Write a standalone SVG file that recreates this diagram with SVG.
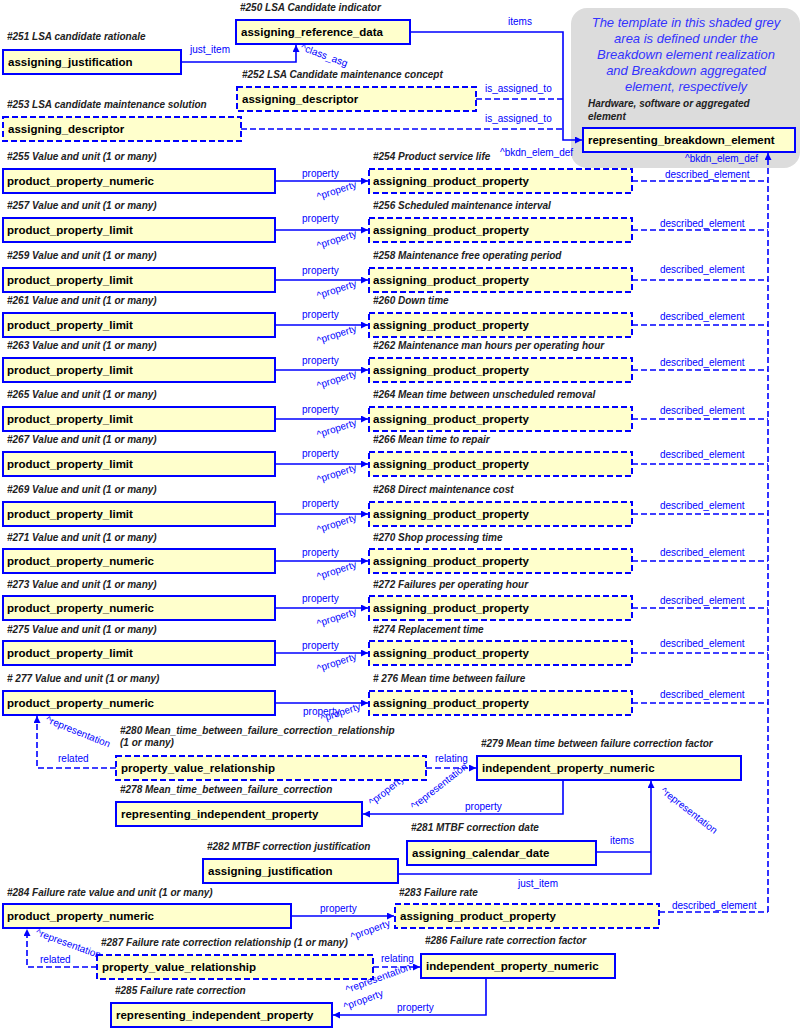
<svg xmlns="http://www.w3.org/2000/svg" width="801" height="1028" viewBox="0 0 801 1028">
<style>
.b{fill:#ffffcc;stroke:#0000ff;stroke-width:2}
.d{stroke-dasharray:6,3}
.t{font:bold 11.5px "Liberation Sans",Arial,sans-serif;fill:#000}
.h{font:italic bold 10px "Liberation Sans",Arial,sans-serif;fill:#222}
.l{font:10px "Liberation Sans",Arial,sans-serif;fill:#0000ff}
.c{fill:none;stroke:#0000ff;stroke-width:1.6}
.g{font:italic 13px "Liberation Sans",Arial,sans-serif;fill:#3333ff}
</style>
<defs><marker id="a" viewBox="0 0 10 10" refX="10" refY="5" markerWidth="7" markerHeight="7" orient="auto" markerUnits="userSpaceOnUse"><path d="M0,0L10,5L0,10z" fill="#0000ff"/></marker></defs>
<rect width="801" height="1028" fill="#fff"/>
<rect x="571" y="8" width="229" height="160" rx="16" fill="#dcdcdc"/>
<text class="g" text-anchor="middle"><tspan x="686" y="27">The template in this shaded grey</tspan><tspan x="686" y="43">area is defined under the</tspan><tspan x="686" y="59">Breakdown element realization</tspan><tspan x="686" y="75">and Breakdown aggregated</tspan><tspan x="686" y="91">element, respectively</tspan></text>
<text class="h"><tspan x="588" y="107">Hardware, software or aggregated</tspan><tspan x="588" y="120">element</tspan></text>
<g id="connectors">
<path class="c" d="M181,62H296V45" marker-end="url(#a)"/>
<text class="l" x="190" y="53">just_item</text>
<text class="l" x="300" y="50" transform="rotate(20 300 50)">^class_asg</text>
<path class="c" d="M410,32H563V140H582" marker-end="url(#a)"/>
<text class="l" x="508" y="25">items</text>
<path class="c d" d="M476,99H563"/><text class="l" x="485" y="92">is_assigned_to</text>
<path class="c d" d="M241,129H563"/><text class="l" x="485" y="122">is_assigned_to</text>
<text class="l" x="500" y="156">^bkdn_elem_def</text>
<text class="l" x="685" y="162">^bkdn_elem_def</text>
<path class="c d" d="M768,912V153" marker-end="url(#a)"/>
<g id="rows">
<path class="c" d="M275,181H368" marker-end="url(#a)"/><text class="l" x="302" y="177">property</text><text class="l" x="318" y="200" transform="rotate(-18 318 200)">^property</text><path class="c d" d="M632,181H768"/><text class="l" x="665" y="178">described_element</text>
<path class="c" d="M275,230H368" marker-end="url(#a)"/><text class="l" x="302" y="222">property</text><text class="l" x="318" y="249" transform="rotate(-18 318 249)">^property</text><path class="c d" d="M632,230H768"/><text class="l" x="660" y="227">described_element</text>
<path class="c" d="M275,280H368" marker-end="url(#a)"/><text class="l" x="302" y="274">property</text><text class="l" x="318" y="299" transform="rotate(-18 318 299)">^property</text><path class="c d" d="M632,280H768"/><text class="l" x="660" y="273">described_element</text>
<path class="c" d="M275,325H368" marker-end="url(#a)"/><text class="l" x="302" y="318">property</text><text class="l" x="318" y="344" transform="rotate(-18 318 344)">^property</text><path class="c d" d="M632,325H768"/><text class="l" x="660" y="320">described_element</text>
<path class="c" d="M275,370H368" marker-end="url(#a)"/><text class="l" x="302" y="364">property</text><text class="l" x="318" y="389" transform="rotate(-18 318 389)">^property</text><path class="c d" d="M632,370H768"/><text class="l" x="660" y="366">described_element</text>
<path class="c" d="M275,419H368" marker-end="url(#a)"/><text class="l" x="302" y="413">property</text><text class="l" x="318" y="438" transform="rotate(-18 318 438)">^property</text><path class="c d" d="M632,419H768"/><text class="l" x="660" y="414">described_element</text>
<path class="c" d="M275,464H368" marker-end="url(#a)"/><text class="l" x="302" y="457">property</text><text class="l" x="318" y="483" transform="rotate(-18 318 483)">^property</text><path class="c d" d="M632,464H768"/><text class="l" x="660" y="458">described_element</text>
<path class="c" d="M275,514H368" marker-end="url(#a)"/><text class="l" x="302" y="507">property</text><text class="l" x="318" y="533" transform="rotate(-18 318 533)">^property</text><path class="c d" d="M632,514H768"/><text class="l" x="660" y="509">described_element</text>
<path class="c" d="M275,561H368" marker-end="url(#a)"/><text class="l" x="302" y="556">property</text><text class="l" x="318" y="580" transform="rotate(-18 318 580)">^property</text><path class="c d" d="M632,561H768"/><text class="l" x="660" y="556">described_element</text>
<path class="c" d="M275,608H368" marker-end="url(#a)"/><text class="l" x="302" y="602">property</text><text class="l" x="318" y="627" transform="rotate(-18 318 627)">^property</text><path class="c d" d="M632,608H768"/><text class="l" x="660" y="604">described_element</text>
<path class="c" d="M275,653H368" marker-end="url(#a)"/><text class="l" x="302" y="649">property</text><text class="l" x="318" y="672" transform="rotate(-18 318 672)">^property</text><path class="c d" d="M632,653H768"/><text class="l" x="660" y="647">described_element</text>
<path class="c" d="M275,703H368" marker-end="url(#a)"/><text class="l" x="303" y="715">property</text><text class="l" x="322" y="722" transform="rotate(-18 322 722)">^property</text><path class="c d" d="M632,703H768"/><text class="l" x="660" y="698">described_element</text>
</g>
<path class="c d" d="M116,768H37V716" marker-end="url(#a)"/>
<text class="l" x="45" y="722" transform="rotate(22 45 722)">^representation</text>
<text class="l" x="58" y="762">related</text>
<path class="c d" d="M426,768H476" marker-end="url(#a)"/><text class="l" x="435" y="762">relating</text>
<path class="c" d="M563,780V814H363" marker-end="url(#a)"/>
<text class="l" x="465" y="810">property</text>
<text class="l" x="372" y="806" transform="rotate(-38 372 806)">^property</text>
<text class="l" x="414" y="810" transform="rotate(-38 414 810)">^representation</text>
<path class="c" d="M596,852H651"/>
<path class="c" d="M398,874H651V781" marker-end="url(#a)"/>
<text class="l" x="610" y="844">items</text>
<text class="l" x="518" y="887">just_item</text>
<text class="l" x="660" y="792" transform="rotate(38 660 792)">^representation</text>
<path class="c" d="M291,916H394" marker-end="url(#a)"/><text class="l" x="320" y="912">property</text>
<text class="l" x="352" y="940" transform="rotate(-20 352 940)">^property</text>
<path class="c d" d="M659,912H768"/><text class="l" x="672" y="909">described_element</text>
<path class="c d" d="M97,967H27V929" marker-end="url(#a)"/>
<text class="l" x="35" y="935" transform="rotate(20 35 935)">^representation</text>
<text class="l" x="40" y="963">related</text>
<path class="c d" d="M373,967H420" marker-end="url(#a)"/><text class="l" x="381" y="962">relating</text>
<path class="c" d="M486,978V1015H333" marker-end="url(#a)"/>
<text class="l" x="397" y="1011">property</text>
<text class="l" x="345" y="1010" transform="rotate(-20 345 1010)">^property</text>
<text class="l" x="347" y="993" transform="rotate(-20 347 993)">^representation</text>
</g>
<g id="n250"><text class="h" x="240" y="11">#250 LSA Candidate indicator</text><rect class="b" x="236" y="20" width="174" height="24"/><text class="t" x="241" y="36">assigning_reference_data</text></g>
<g id="n251"><text class="h" x="7" y="40">#251 LSA candidate rationale</text><rect class="b" x="3" y="50" width="178" height="24"/><text class="t" x="8" y="66">assigning_justification</text></g>
<g id="n252"><text class="h" x="242" y="78">#252 LSA Candidate maintenance concept</text><rect class="b d" x="237" y="87" width="239" height="24"/><text class="t" x="242" y="103">assigning_descriptor</text></g>
<g id="n253"><text class="h" x="7" y="108">#253 LSA candidate maintenance solution</text><rect class="b d" x="3" y="117" width="238" height="24"/><text class="t" x="8" y="133">assigning_descriptor</text></g>
<g id="rbe"><rect class="b" x="583" y="128" width="212" height="24"/><text class="t" x="588" y="144">representing_breakdown_element</text></g>
<g id="r1"><text class="h" x="7" y="160">#255 Value and unit (1 or many)</text><rect class="b" x="3" y="169" width="272" height="24"/><text class="t" x="7" y="185">product_property_numeric</text><text class="h" x="373" y="160">#254 Product service life</text><rect class="b d" x="369" y="169" width="263" height="24"/><text class="t" x="373" y="185">assigning_product_property</text></g>
<g id="r2"><text class="h" x="7" y="209">#257 Value and unit (1 or many)</text><rect class="b" x="3" y="218" width="272" height="24"/><text class="t" x="7" y="234">product_property_limit</text><text class="h" x="373" y="209">#256 Scheduled maintenance interval</text><rect class="b d" x="369" y="218" width="263" height="24"/><text class="t" x="373" y="234">assigning_product_property</text></g>
<g id="r3"><text class="h" x="7" y="259">#259 Value and unit (1 or many)</text><rect class="b" x="3" y="268" width="272" height="24"/><text class="t" x="7" y="284">product_property_limit</text><text class="h" x="373" y="259">#258 Maintenance free operating period</text><rect class="b d" x="369" y="268" width="263" height="24"/><text class="t" x="373" y="284">assigning_product_property</text></g>
<g id="r4"><text class="h" x="7" y="304">#261 Value and unit (1 or many)</text><rect class="b" x="3" y="313" width="272" height="24"/><text class="t" x="7" y="329">product_property_limit</text><text class="h" x="373" y="304">#260 Down time</text><rect class="b d" x="369" y="313" width="263" height="24"/><text class="t" x="373" y="329">assigning_product_property</text></g>
<g id="r5"><text class="h" x="7" y="349">#263 Value and unit (1 or many)</text><rect class="b" x="3" y="358" width="272" height="24"/><text class="t" x="7" y="374">product_property_limit</text><text class="h" x="373" y="349">#262 Maintenance man hours per operating hour</text><rect class="b d" x="369" y="358" width="263" height="24"/><text class="t" x="373" y="374">assigning_product_property</text></g>
<g id="r6"><text class="h" x="7" y="398">#265 Value and unit (1 or many)</text><rect class="b" x="3" y="407" width="272" height="24"/><text class="t" x="7" y="423">product_property_limit</text><text class="h" x="373" y="398">#264 Mean time between unscheduled removal</text><rect class="b d" x="369" y="407" width="263" height="24"/><text class="t" x="373" y="423">assigning_product_property</text></g>
<g id="r7"><text class="h" x="7" y="443">#267 Value and unit (1 or many)</text><rect class="b" x="3" y="452" width="272" height="24"/><text class="t" x="7" y="468">product_property_limit</text><text class="h" x="373" y="443">#266 Mean time to repair</text><rect class="b d" x="369" y="452" width="263" height="24"/><text class="t" x="373" y="468">assigning_product_property</text></g>
<g id="r8"><text class="h" x="7" y="493">#269 Value and unit (1 or many)</text><rect class="b" x="3" y="502" width="272" height="24"/><text class="t" x="7" y="518">product_property_limit</text><text class="h" x="373" y="493">#268 Direct maintenance cost</text><rect class="b d" x="369" y="502" width="263" height="24"/><text class="t" x="373" y="518">assigning_product_property</text></g>
<g id="r9"><text class="h" x="7" y="541">#271 Value and unit (1 or many)</text><rect class="b" x="3" y="549" width="272" height="24"/><text class="t" x="7" y="565">product_property_numeric</text><text class="h" x="373" y="541">#270 Shop processing time</text><rect class="b d" x="369" y="549" width="263" height="24"/><text class="t" x="373" y="565">assigning_product_property</text></g>
<g id="r10"><text class="h" x="7" y="588">#273 Value and unit (1 or many)</text><rect class="b" x="3" y="596" width="272" height="24"/><text class="t" x="7" y="612">product_property_numeric</text><text class="h" x="373" y="588">#272 Failures per operating hour</text><rect class="b d" x="369" y="596" width="263" height="24"/><text class="t" x="373" y="612">assigning_product_property</text></g>
<g id="r11"><text class="h" x="7" y="633">#275 Value and unit (1 or many)</text><rect class="b" x="3" y="641" width="272" height="24"/><text class="t" x="7" y="657">product_property_limit</text><text class="h" x="373" y="633">#274 Replacement time</text><rect class="b d" x="369" y="641" width="263" height="24"/><text class="t" x="373" y="657">assigning_product_property</text></g>
<g id="r12"><text class="h" x="7" y="682"># 277 Value and unit (1 or many)</text><rect class="b" x="3" y="691" width="272" height="24"/><text class="t" x="7" y="707">product_property_numeric</text><text class="h" x="373" y="682"># 276 Mean time between failure</text><rect class="b d" x="369" y="691" width="263" height="24"/><text class="t" x="373" y="707">assigning_product_property</text></g>
<g id="n280"><text class="h"><tspan x="120" y="734">#280 Mean_time_between_failure_correction_relationship</tspan><tspan x="120" y="746">(1 or many)</tspan></text><rect class="b d" x="116" y="756" width="310" height="24"/><text class="t" x="121" y="772">property_value_relationship</text></g>
<g id="n279"><text class="h" x="481" y="747">#279 Mean time between failure correction factor</text><rect class="b" x="477" y="756" width="264" height="24"/><text class="t" x="482" y="772">independent_property_numeric</text></g>
<g id="n278"><text class="h" x="120" y="793">#278 Mean_time_between_failure_correction</text><rect class="b" x="116" y="802" width="246" height="24"/><text class="t" x="121" y="818">representing_independent_property</text></g>
<g id="n281"><text class="h" x="411" y="831">#281 MTBF correction date</text><rect class="b" x="407" y="841" width="189" height="24"/><text class="t" x="412" y="857">assigning_calendar_date</text></g>
<g id="n282"><text class="h" x="207" y="850">#282 MTBF correction justification</text><rect class="b" x="203" y="859" width="195" height="24"/><text class="t" x="208" y="875">assigning_justification</text></g>
<g id="n284"><text class="h" x="7" y="896">#284 Failure rate value and unit (1 or many)</text><rect class="b" x="3" y="904" width="288" height="24"/><text class="t" x="7" y="920">product_property_numeric</text></g>
<g id="n283"><text class="h" x="399" y="896">#283 Failure rate</text><rect class="b d" x="395" y="904" width="264" height="24"/><text class="t" x="400" y="920">assigning_product_property</text></g>
<g id="n287"><text class="h" x="101" y="946">#287 Failure rate correction relationship (1 or many)</text><rect class="b d" x="97" y="955" width="276" height="24"/><text class="t" x="102" y="971">property_value_relationship</text></g>
<g id="n286"><text class="h" x="425" y="944">#286 Failure rate correction factor</text><rect class="b" x="421" y="954" width="194" height="24"/><text class="t" x="426" y="970">independent_property_numeric</text></g>
<g id="n285"><text class="h" x="115" y="994">#285 Failure rate correction</text><rect class="b" x="111" y="1003" width="221" height="24"/><text class="t" x="116" y="1019">representing_independent_property</text></g>
</svg>
